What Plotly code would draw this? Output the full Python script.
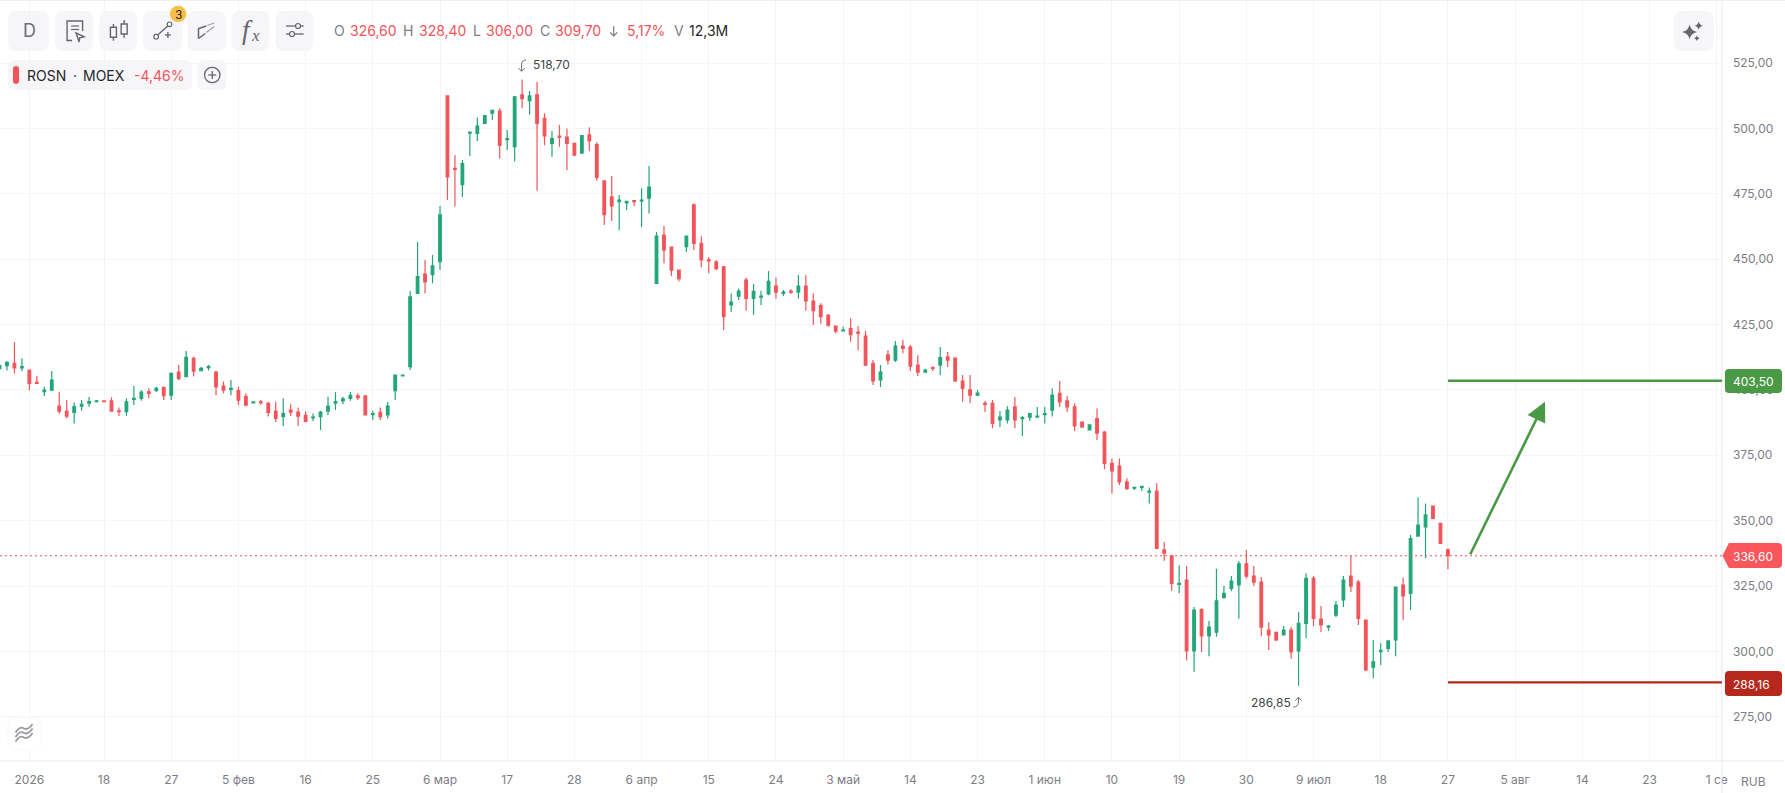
import plotly.graph_objects as go

W, H = 1785, 793
FIG_W = 1793
PLOT_R, PLOT_B = 1720, 761

opens = [
 408.1,409.3,410.2,408.4,407.6,402.9,399.3,399.9,393.8,391.9,
 391.4,393.8,394.9,395.5,395.8,395.8,392.0,391.7,396.4,396.8,
 399.3,399.8,401.0,398.0,406.8,405.1,412.1,407.4,408.5,406.8,
 401.5,400.2,399.7,397.4,395.0,395.4,394.9,391.9,389.8,392.3,
 391.5,390.3,389.3,389.8,391.9,394.9,395.8,396.8,397.7,397.7,
 390.5,391.4,390.4,399.7,405.4,408.9,436.9,444.3,444.1,449.0,
 512.4,484.7,478.5,498.2,498.1,501.9,505.8,506.6,495.7,493.0,
 512.8,510.6,512.8,503.8,494.3,497.1,496.7,494.3,490.5,497.5,
 493.8,479.9,473.8,472.0,471.5,472.4,472.2,473.3,440.7,459.2,
 454.6,445.8,454.8,470.8,456.0,449.7,448.9,447.1,432.5,435.9,
 442.0,435.0,435.5,436.7,439.7,436.9,437.8,437.4,439.7,434.0,
 432.2,428.5,424.4,422.6,423.4,422.1,420.6,410.2,403.8,413.4,
 411.4,416.8,416.4,409.5,406.8,408.6,409.5,412.6,412.2,403.4,
 400.0,398.0,394.9,394.9,388.5,388.5,393.5,389.0,389.6,389.6,
 390.5,392.3,398.7,395.8,393.5,387.7,384.7,389.0,383.9,371.9,
 370.9,364.8,362.4,362.7,360.9,361.3,338.8,336.5,325.6,327.3,
 300.2,316.0,305.9,307.4,320.7,324.1,325.4,333.5,328.8,326.5,
 308.2,307.3,306.3,308.2,300.2,310.7,327.9,312.4,309.3,313.9,
 319.7,328.8,326.5,312.0,294.0,299.9,301.2,304.4,325.4,322.2,
 344.1,347.6,355.6,349.0,338.8]
highs = [
 409.9,411.0,418.3,412.1,407.6,405.3,401.2,407.2,399.3,396.1,
 395.2,396.1,397.3,396.1,395.9,397.2,393.3,396.8,401.5,399.9,
 400.6,401.2,401.2,406.7,409.5,414.9,412.7,408.9,409.5,407.2,
 403.2,403.8,401.2,398.7,395.5,396.1,395.5,395.5,396.8,394.6,
 393.3,391.8,391.0,391.9,397.4,399.2,397.4,399.2,398.7,397.7,
 392.0,393.3,395.4,405.7,405.7,437.8,456.6,449.7,451.6,470.3,
 512.4,489.8,487.9,498.6,504.2,505.0,507.0,507.7,499.4,512.4,
 518.7,514.3,517.7,505.8,499.0,501.3,500.0,494.4,497.5,500.4,
 494.7,479.9,481.8,474.5,472.1,472.6,477.1,485.6,460.4,462.7,
 454.6,445.8,458.8,471.3,458.8,450.7,449.7,447.4,436.9,438.8,
 443.0,440.5,437.9,445.5,443.0,438.2,438.5,443.9,443.9,436.9,
 433.1,429.0,424.4,424.2,427.4,424.4,422.5,411.4,409.5,415.3,
 418.7,419.1,417.2,413.3,408.1,408.8,416.4,414.5,412.4,405.7,
 405.7,400.0,395.8,396.1,391.9,393.8,397.3,390.0,391.2,393.5,
 393.5,400.6,403.4,397.7,394.9,387.7,386.6,392.9,384.3,373.8,
 373.8,366.2,362.9,363.3,362.7,364.3,341.8,336.5,333.0,332.7,
 317.0,316.5,311.6,331.6,325.0,328.8,334.6,338.8,332.7,328.5,
 311.2,307.4,309.7,309.3,315.1,329.9,328.8,317.4,310.1,319.3,
 328.8,336.5,327.3,312.0,304.4,303.1,304.0,324.6,328.3,344.5,
 358.9,356.6,355.6,349.0,339.4]
lows = [
 407.6,407.4,406.3,407.1,399.9,402.5,397.7,399.9,390.9,389.1,
 387.2,392.0,393.6,395.5,395.4,391.7,390.0,390.1,394.2,395.9,
 396.8,399.2,396.1,396.1,403.8,405.1,405.1,407.4,407.4,398.0,
 398.7,398.0,394.2,393.8,394.9,394.3,389.8,387.7,386.2,390.0,
 386.2,387.7,388.0,384.7,390.4,392.3,394.5,395.9,396.1,390.4,
 388.5,388.5,389.1,396.1,405.4,407.6,436.9,436.9,440.8,445.9,
 472.6,470.1,473.9,489.4,495.2,501.9,503.2,488.5,491.7,487.3,
 507.7,505.2,476.2,493.6,489.2,493.0,484.1,489.4,490.3,491.4,
 480.0,463.1,464.6,461.1,468.8,470.3,462.3,467.5,440.5,448.4,
 443.6,441.6,452.7,453.5,446.9,444.6,445.8,422.9,429.8,434.4,
 430.3,428.6,432.5,436.2,434.9,435.9,436.7,434.9,430.3,424.8,
 425.3,424.2,421.6,422.5,418.4,415.2,409.1,401.9,401.1,409.7,
 410.7,414.0,407.2,405.3,406.8,407.2,405.7,408.8,403.0,395.5,
 394.9,397.7,391.6,385.3,385.8,387.2,385.3,382.4,388.1,389.6,
 387.2,389.8,393.5,391.6,384.3,385.8,384.7,380.8,369.8,360.4,
 363.6,361.7,361.7,361.3,356.6,339.3,334.7,323.2,322.2,296.5,
 292.2,299.8,298.2,305.6,320.0,323.1,312.5,327.8,325.0,305.9,
 300.5,304.0,306.3,297.2,286.85,305.0,309.7,307.4,307.8,313.2,
 317.0,322.7,310.1,292.5,289.7,294.8,299.8,298.2,312.0,315.8,
 344.1,335.6,350.5,341.2,331.4]
closes = [
 409.3,410.5,408.4,408.9,402.5,402.5,399.9,403.8,391.9,390.0,
 393.6,394.5,395.5,395.8,395.5,391.9,391.7,395.4,396.8,399.2,
 398.7,400.6,397.8,406.3,404.3,412.5,407.2,408.2,408.9,401.2,
 399.9,400.6,396.1,394.2,395.4,395.1,391.4,389.1,390.9,391.5,
 390.0,388.0,389.6,391.5,393.8,395.5,396.6,397.9,397.0,390.4,
 390.9,389.8,393.8,405.7,405.7,435.6,443.3,441.3,447.4,466.9,
 481.5,484.3,486.5,498.6,500.9,504.9,506.9,493.6,496.1,512.1,
 511.4,512.4,501.9,497.1,496.1,496.7,494.3,489.8,497.2,495.2,
 481.3,467.0,470.4,472.6,472.1,472.0,472.6,477.6,458.8,453.5,
 445.8,442.5,458.8,456.0,449.7,449.3,446.4,428.0,433.6,437.8,
 435.0,437.7,435.9,441.5,437.4,437.4,437.4,439.7,434.0,430.3,
 428.0,424.8,422.5,422.9,421.1,421.7,409.5,403.4,406.8,411.4,
 416.8,415.9,409.1,406.8,407.6,408.2,412.4,411.4,403.4,400.6,
 398.0,398.8,394.5,387.2,389.6,392.3,388.5,389.4,390.9,390.0,
 390.9,398.0,395.4,393.5,386.2,385.8,386.6,383.5,371.9,369.0,
 364.8,362.2,362.7,363.1,361.3,339.4,337.6,326.0,326.0,300.2,
 315.8,305.9,309.3,319.3,322.2,326.9,333.5,328.8,326.5,309.3,
 306.3,304.4,308.2,299.8,310.7,327.9,312.6,310.1,309.7,317.7,
 327.3,325.0,312.6,292.9,296.0,300.4,304.0,324.6,321.2,343.1,
 348.3,352.2,350.9,341.3,336.6]

x_tick_pos = [4,14,23,32,41,50,59,68,77,86,95,104,113,122,131,140,149,158,167,176,185,194,203,212,221,230]
x_tick_txt = ["2026","18","27","5 фев","16","25","6 мар","17","28","6 апр","15","24","3 май","14","23",
              "1 июн","10","19","30","9 июл","18","27","5 авг","14","23","1 се"]
y_tick_val = [275,300,325,350,375,400,425,450,475,500,525]
y_tick_txt = ["275,00","300,00","325,00","350,00","375,00","400,00","425,00","450,00","475,00","500,00","525,00"]

current_price = 336.60
target_price = 403.50
stop_price = 288.16
arrow_start = (196.9, 336.6)
arrow_tip = (207.0, 395.5)
last_index = 194

UP, DOWN = "#22A679", "#F2545A"
GREEN, DARKRED = "#4A9A45", "#B7281C"
GREY, INK = "#7D7D85", "#26262B"
BTN = "rgba(245,245,248,0.85)"
ICON = "#66666E"
FONT = "Inter, 'Noto Sans', sans-serif"

def fx(p): return p / W
def fy(p): return 1 - p / H

def path(cmds):
    """cmds: list of (letter, x, y, ...) in page pixels."""
    out = []
    for c in cmds:
        nums = c[1:]
        pts = " ".join(f"{fx(nums[k]):.5f} {fy(nums[k+1]):.5f}" for k in range(0, len(nums), 2))
        out.append(c[0] + " " + pts if nums else c[0])
    return " ".join(out)

shapes = []
def add_path(cmds, fill=None, line=None, width=1.2, layer="above"):
    shapes.append(dict(type="path", xref="paper", yref="paper", path=path(cmds), layer=layer,
                       fillcolor=fill or "rgba(0,0,0,0)",
                       line=dict(color=line or "rgba(0,0,0,0)", width=width if line else 0)))

def rrect(x0, y0, x1, y1, r, fill, line=None):
    add_path([("M",x0+r,y0),("L",x1-r,y0),("Q",x1,y0,x1,y0+r),("L",x1,y1-r),("Q",x1,y1,x1-r,y1),
              ("L",x0+r,y1),("Q",x0,y1,x0,y1-r),("L",x0,y0+r),("Q",x0,y0,x0+r,y0),("Z",)], fill=fill, line=line, width=1)

def circle(cx, cy, r, fill=None, line=None, width=1.2):
    shapes.append(dict(type="circle", xref="paper", yref="paper", x0=fx(cx-r), x1=fx(cx+r), y0=fy(cy+r), y1=fy(cy-r),
                       fillcolor=fill or "rgba(0,0,0,0)", line=dict(color=line or "rgba(0,0,0,0)", width=width if line else 0)))

def star(cx, cy, r):
    k = r * 0.16
    add_path([("M",cx,cy-r),("Q",cx+k,cy-k,cx+r,cy),("Q",cx+k,cy+k,cx,cy+r),("Q",cx-k,cy+k,cx-r,cy),("Q",cx-k,cy-k,cx,cy-r),("Z",)], fill=ICON)

annotations = []
def text(x, y, s, size=12, color=GREY, anchor="left", family=FONT):
    annotations.append(dict(xref="paper", yref="paper", x=fx(x), y=fy(y), text=s, showarrow=False,
                            xanchor=anchor, yanchor="middle", align=anchor, borderpad=0, borderwidth=0,
                            font=dict(size=size, color=color, family=family)))

# axis separators
add_path([("M",0,PLOT_B),("L",1782,PLOT_B)], line="#E9E9EC", width=1)
add_path([("M",PLOT_R,0),("L",PLOT_R,H)], line="#E9E9EC", width=1)
add_path([("M",0,0.5),("L",W,0.5)], line="#F0F0F2", width=1)

# toolbar buttons
for x0, x1 in [(8,49),(55,93),(99,137),(143,182),(187,226),(231,269),(275,313),(1672,1712)]:
    rrect(x0, 11, x1, 51, 9, BTN)
text(29, 31, "D", size=18, color="#6E6E76", anchor="center")

# document + cursor icon
add_path([("M",72,40.5),("L",67,40.5),("L",67,21),("L",82.5,21),("L",82.5,31)], line=ICON, width=1.4)
add_path([("M",71,26),("L",79,26)], line=ICON, width=1.2)
add_path([("M",71,29.5),("L",79,29.5)], line=ICON, width=1.2)
add_path([("M",76,33),("L",84,36.7),("L",79.6,37.8),("L",79,42),("Z",)], line=ICON, width=1.4)

# candles icon
for cx, top, bot, w0, w1 in [(113.3,27.3,37.3,24,40.7),(124,24,34,20,37.7)]:
    add_path([("M",cx,w0),("L",cx,top)], line=ICON, width=1.4)
    add_path([("M",cx,bot),("L",cx,w1)], line=ICON, width=1.4)
    add_path([("M",cx-3,top),("L",cx+3,top),("L",cx+3,bot),("L",cx-3,bot),("Z",)], line=ICON, width=1.4)

# trend-line icon
add_path([("M",157.6,35),("L",167.8,25.8)], line=ICON, width=1.3)
circle(156, 36.7, 2.3, fill="white", line=ICON)
circle(169.3, 24.3, 2.3, fill="white", line=ICON)
add_path([("M",164.7,35),("L",170.7,35)], line=ICON, width=1.3)
add_path([("M",167.7,32),("L",167.7,38)], line=ICON, width=1.3)
circle(178, 14, 8.3, fill="#F9BF4A")
text(178, 14, "3", size=12, color=INK, anchor="center")

# channel icon
add_path([("M",198.3,38.5),("L",198.3,28.5),("L",206,26)], line=ICON, width=1.5)
add_path([("M",198.3,38.5),("L",205,33.5)], line=ICON, width=1.5)
add_path([("M",207,25.5),("L",214,23)], line="#A0A0A6", width=1.2)
add_path([("M",206,32.5),("L",214,26.5)], line="#A0A0A6", width=1.2)

# fx icon
text(247, 30, "<i>f</i>", size=27, color=ICON, anchor="center", family="'Liberation Serif', serif")
text(255, 35.5, "<i>x</i>", size=17, color=ICON, anchor="center", family="'Liberation Serif', serif")

# sliders icon
add_path([("M",285.7,26),("L",303.3,26)], line=ICON, width=1.3)
add_path([("M",285.7,34),("L",303.3,34)], line=ICON, width=1.3)
circle(297.7, 26, 2.5, fill="#F3F3F6", line=ICON)
circle(291.7, 34, 2.5, fill="#F3F3F6", line=ICON)

# sparkles
star(1687.7, 32, 7.5)
star(1696.8, 25.7, 4.2)
star(1695, 38.3, 2.8)

# OHLC readout
for x, s, c in [(334,"O",GREY),(350,"326,60",DOWN),(403,"H",GREY),(419,"328,40",DOWN),(472,"L",GREY),
                (485,"306,00",DOWN),(539,"C",GREY),(554,"309,70",DOWN),(626,"5,17%",DOWN),(673,"V",GREY),(688,"12,3M",INK)]:
    text(x, 31, s, size=14, color=c)
add_path([("M",613,26),("L",613,36)], line=GREY, width=1.2)
add_path([("M",609.5,32.5),("L",613,36),("L",616.5,32.5)], line=GREY, width=1.2)

# instrument legend
rrect(8, 60, 192, 90, 7, BTN)
rrect(197, 60, 226, 90, 7, BTN)
rrect(13, 66, 19, 84, 3, DOWN)
text(27, 75, "ROSN", size=14, color=INK)
text(74.5, 75, "·", size=14, color=INK, anchor="center")
text(83, 75, "MOEX", size=14, color=INK)
text(134, 75, "-4,46%", size=14, color=DOWN)
circle(212, 75, 7.7, line=ICON, width=1.3)
add_path([("M",208,75),("L",216,75)], line=ICON, width=1.3)
add_path([("M",212,71),("L",212,79)], line=ICON, width=1.3)

# high / low marks
text(532.5, 64, "518,70", size=12, color="#45454B")
add_path([("M",525.5,60),("Q",521,60,521,65),("L",521,71)], line="#6E6E76", width=1)
add_path([("M",517.8,68),("L",521,71.3),("L",524.2,68)], line="#6E6E76", width=1)
text(1250, 702, "286,85", size=12, color="#45454B")
add_path([("M",1291.7,707),("Q",1297,707,1297,702),("L",1297,697.5)], line="#6E6E76", width=1)
add_path([("M",1293.8,700.7),("L",1297,697.2),("L",1300.2,700.7)], line="#6E6E76", width=1)

# bottom-left card
rrect(8, 718, 41, 750, 9, "rgba(255,255,255,0.95)", line="#F9F9FA")
for dy in (-4.5, 0, 4.5):
    add_path([("M",15.5,737+dy),("Q",20,730+dy,24,733+dy),("Q",28,735+dy,32.5,728.5+dy)], line="#9A9AA2", width=1.8)

# price tags
rrect(1723, 369, 1780, 393, 4, GREEN)
add_path([("M",1727,543),("L",1776,543),("Q",1780,543,1780,547),("L",1780,564),("Q",1780,568,1776,568),
          ("L",1727,568),("L",1720.5,555.7),("Z",)], fill="#FB565C")
rrect(1723, 671, 1780, 696, 4, DARKRED)
text(1731, 381, "403,50", size=12, color="white")
text(1731, 556, "336,60", size=12, color="white")
text(1731, 684, "288,16", size=12, color="white")
text(1751.5, 781, "RUB", size=12, color=GREY, anchor="center")

# data-anchored lines
shapes.append(dict(type="line", xref="x domain", yref="y", x0=0, x1=1, y0=current_price, y1=current_price,
                   line=dict(color=DOWN, width=1.1, dash="2px,3px"), layer="above"))
shapes.append(dict(type="line", xref="x", yref="y", x0=last_index, x1=230.7, y0=target_price, y1=target_price,
                   line=dict(color=GREEN, width=2.4)))
shapes.append(dict(type="line", xref="x", yref="y", x0=last_index, x1=230.7, y0=stop_price, y1=stop_price,
                   line=dict(color=DARKRED, width=2.2)))
annotations.append(dict(xref="x", yref="y", axref="x", ayref="y", x=arrow_tip[0], y=arrow_tip[1],
                        ax=arrow_start[0], ay=arrow_start[1], text="", showarrow=True, arrowhead=2,
                        arrowsize=1.5, arrowwidth=2.6, arrowcolor=GREEN, standoff=0, startstandoff=0))

fig = go.Figure(go.Candlestick(
    x=list(range(len(opens))), open=opens, high=highs, low=lows, close=closes,
    increasing=dict(line=dict(color=UP, width=1.2), fillcolor=UP),
    decreasing=dict(line=dict(color=DOWN, width=1.2), fillcolor=DOWN),
    whiskerwidth=0, hoverinfo="skip", showlegend=False,
))
fig.update_layout(
    width=FIG_W, height=H, margin=dict(l=0, r=0, t=0, b=0), paper_bgcolor="white", plot_bgcolor="white",
    boxgap=0.5, showlegend=False, shapes=shapes, annotations=annotations,
    font=dict(family=FONT, size=12, color=GREY),
    xaxis=dict(domain=[0, PLOT_R/W], range=[0.067, 230.7], tickmode="array", tickvals=x_tick_pos, ticktext=x_tick_txt,
               showgrid=True, gridcolor="#F5F5F6", gridwidth=1, zeroline=False, showline=False, ticks="",
               ticklabelstandoff=10, rangeslider=dict(visible=False), tickangle=0),
    yaxis=dict(domain=[(H-PLOT_B)/H, 1], range=[258.1, 549.1], side="right", tickmode="array", tickvals=y_tick_val,
               ticktext=y_tick_txt, showgrid=True, gridcolor="#F5F5F6", gridwidth=1, zeroline=False, showline=False,
               ticks="", ticklabelstandoff=10),
)
fig.write_html("out.html", config={"displayModeBar": False},
               post_script="document.body.style.margin='0';document.body.style.overflow='hidden';document.documentElement.style.overflow='hidden';")
